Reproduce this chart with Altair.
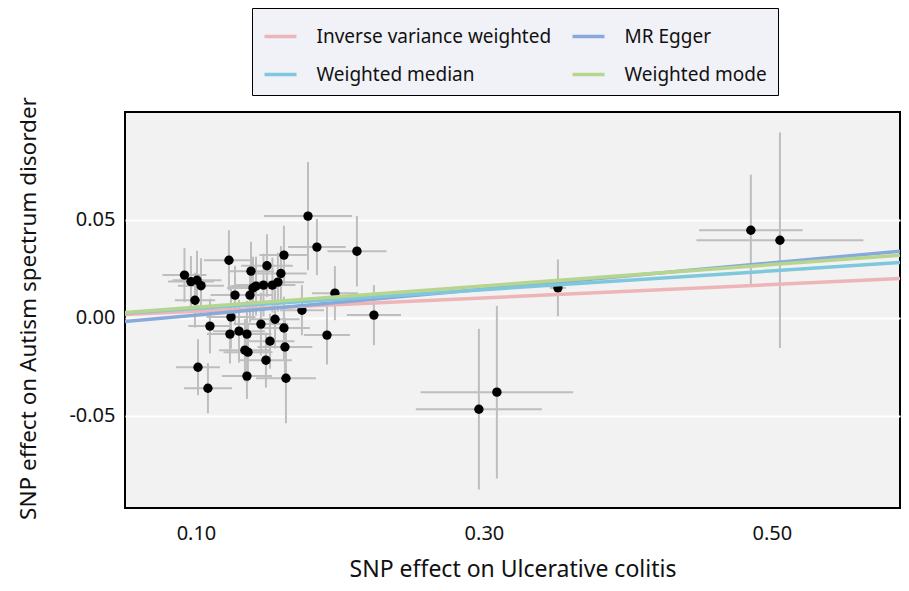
import altair as alt
import pandas as pd

# SNP effects
snp_x = [0.1778, 0.1840, 0.2118, 0.1229, 0.1382, 0.1493, 0.1611, 0.1590, 0.0920, 0.0965,
         0.1007, 0.1035, 0.0993, 0.1271, 0.1375, 0.1396, 0.1417, 0.1469, 0.1531, 0.1569,
         0.1965, 0.1736, 0.2236, 0.1243, 0.1097, 0.1236, 0.1299, 0.1354, 0.1451, 0.1549,
         0.1611, 0.1910, 0.1514, 0.1618, 0.1340, 0.1361, 0.1486, 0.1014, 0.1354, 0.1625,
         0.1083, 0.2965, 0.3090, 0.3514, 0.4854, 0.5056]
snp_y = [0.0519, 0.0361, 0.0340, 0.0294, 0.0238, 0.0266, 0.0320, 0.0226, 0.0218, 0.0185,
         0.0192, 0.0164, 0.0090, 0.0116, 0.0116, 0.0152, 0.0162, 0.0167, 0.0167, 0.0182,
         0.0126, 0.0039, 0.0014, 0.0004, -0.0042, -0.0083, -0.0068, -0.0083, -0.0032, -0.0007,
         -0.0052, -0.0088, -0.0119, -0.0149, -0.0165, -0.0175, -0.0216, -0.0252, -0.0297, -0.0308,
         -0.0359, -0.0466, -0.0379, 0.0153, 0.0447, 0.0396]
x_err = [0.0306, 0.020, 0.0205, 0.0174, 0.016, 0.018, 0.017, 0.018, 0.0153, 0.016,
         0.017, 0.016, 0.014, 0.017, 0.016, 0.018, 0.017, 0.019, 0.016, 0.018,
         0.016, 0.0153, 0.0188, 0.017, 0.015, 0.016, 0.018, 0.017, 0.019, 0.017,
         0.018, 0.016, 0.017, 0.019, 0.018, 0.017, 0.018, 0.0153, 0.0174, 0.0208,
         0.0167, 0.0438, 0.053, 0.0056, 0.036, 0.058]
y_err = [0.0276, 0.0143, 0.018, 0.0153, 0.015, 0.016, 0.015, 0.014, 0.0138, 0.013,
         0.015, 0.014, 0.014, 0.015, 0.014, 0.016, 0.015, 0.016, 0.014, 0.015,
         0.0138, 0.0128, 0.0153, 0.016, 0.014, 0.015, 0.016, 0.017, 0.016, 0.015,
         0.016, 0.015, 0.014, 0.015, 0.016, 0.015, 0.014, 0.0143, 0.0117, 0.023,
         0.0128, 0.041, 0.044, 0.0145, 0.0283, 0.055]

# MR methods: slopes and intercepts
methods = ["Inverse variance weighted", "MR Egger", "Weighted median", "Weighted mode"]
slopes = [0.0340, 0.0667, 0.0479, 0.0543]
intercepts = [0.0, -0.0053, 0.0, 0.0]
colors = ["#EDB5B7", "#88AADB", "#7FC7DD", "#B6D58F"]

x_domain = [0.0507, 0.589]
y_domain = [-0.097, 0.105]
x_ticks = [0.10, 0.30, 0.50]
y_ticks = [-0.05, 0.0, 0.05]

pts = pd.DataFrame({"x": snp_x, "y": snp_y, "xe": x_err, "ye": y_err})
pts["xlo"] = pts.x - pts.xe
pts["xhi"] = pts.x + pts.xe
pts["ylo"] = pts.y - pts.ye
pts["yhi"] = pts.y + pts.ye

rows = []
for m, s, b in zip(methods, slopes, intercepts):
    for xv in x_domain:
        rows.append({"method": m, "x": xv, "y": b + s * xv})
lines = pd.DataFrame(rows)

FONT = "Noto Sans"
xs = alt.Scale(domain=x_domain, nice=False, zero=False)
ys = alt.Scale(domain=y_domain, nice=False, zero=False)
lab = "replace(format(datum.value, '.2f'), '\u2212', '-')"

x_axis = alt.Axis(values=x_ticks, labelExpr=lab, grid=False, ticks=False, domain=False,
                  labelFontSize=20, labelPadding=15, labelColor="#111",
                  title="SNP effect on Ulcerative colitis", titleFontSize=23,
                  titleFontWeight="normal", titlePadding=15, titleColor="#111")
y_axis = alt.Axis(values=y_ticks, labelExpr=lab, grid=True, gridColor="white", gridWidth=2,
                  ticks=False, domain=False, labelFontSize=20, labelPadding=10, labelColor="#111",
                  title="SNP effect on Autism spectrum disorder", titleFontSize=22.5,
                  titleFontWeight="normal", titleColor="#111", titleX=-85, titleY=196)

base = alt.Chart(pts)

hbar = base.mark_rule(color="#BEBEBE", strokeWidth=2, clip=True).encode(
    x=alt.X("xlo:Q", scale=xs, axis=x_axis), x2="xhi:Q",
    y=alt.Y("y:Q", scale=ys, axis=y_axis))
vbar = base.mark_rule(color="#BEBEBE", strokeWidth=2, clip=True).encode(
    x=alt.X("x:Q", scale=xs), y=alt.Y("ylo:Q", scale=ys), y2="yhi:Q")
dots = base.mark_circle(color="black", opacity=1, size=88).encode(
    x=alt.X("x:Q", scale=xs), y=alt.Y("y:Q", scale=ys))

legend = alt.Legend(title=None, orient="none", legendX=127, legendY=-104, columns=2,
                    direction="horizontal", symbolType="stroke",
                    symbolSize=1024, symbolStrokeWidth=3.5, labelFontSize=19, labelFont=FONT,
                    labelColor="#111", labelLimit=0, labelOffset=18, columnPadding=14,
                    rowPadding=10, padding=10.5, fillColor="#F1F2F8", strokeColor="black")

mr = alt.Chart(lines).mark_line(strokeWidth=3.5, clip=True).encode(
    x=alt.X("x:Q", scale=xs), y=alt.Y("y:Q", scale=ys),
    color=alt.Color("method:N", scale=alt.Scale(domain=methods, range=colors), legend=legend))

chart = alt.layer(hbar, vbar, dots, mr).properties(
    width=775, height=396,
    autosize=alt.AutoSizeParams(type="none"),
    padding={"left": 117, "top": 104, "right": 1, "bottom": 75},
    background="white",
).configure(font=FONT).configure_view(fill="#F2F2F2", stroke="black", strokeWidth=2)

chart.save("out.html", embed_options={"renderer": "svg", "actions": False})
